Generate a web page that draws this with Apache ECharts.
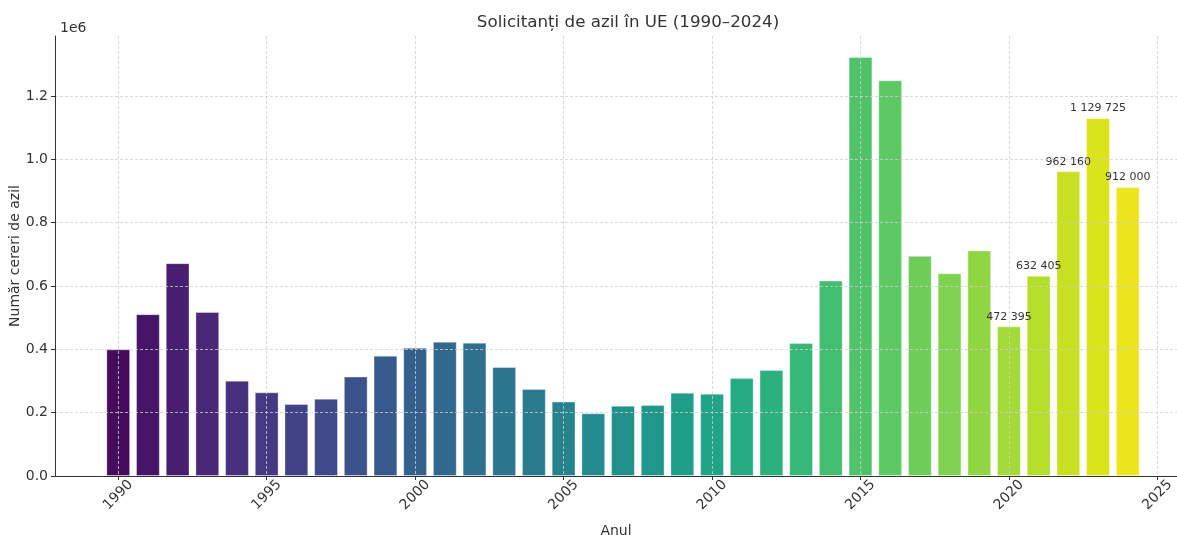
<!DOCTYPE html>
<html><head><meta charset="utf-8">
<script src="https://cdn.jsdelivr.net/npm/echarts@6/dist/echarts.min.js"></script>
<style>html,body{margin:0;padding:0;background:#fff}#c{width:1177px;height:535px}</style>
</head><body><div id="c"></div>
<script>
// ---- data ----
const years = [1990,1991,1992,1993,1994,1995,1996,1997,1998,1999,2000,2001,2002,2003,2004,2005,2006,2007,2008,2009,2010,2011,2012,2013,2014,2015,2016,2017,2018,2019,2020,2021,2022,2023,2024];
const applications = [400000,511000,672000,518000,301000,264000,227000,244000,314000,380000,405000,424000,421000,344000,275000,235000,198000,222000,224000,263000,260000,309000,335000,420000,617000,1323000,1249000,695000,640000,712000,472395,632405,962160,1129725,912000];
const labeledYears = [2020,2021,2022,2023,2024];
const titleText = 'Solicitanți de azil în UE (1990–2024)';
const xName = 'Anul';
const yName = 'Număr cereri de azil';
const yScaleText = '1e6';

// ---- viridis colour map (style) ----
const viridisStops = ['#440154','#471365','#482475','#463480','#414487','#3b528b','#355f8d','#2f6c8e','#2a788e','#25848e','#21918c','#1e9c89','#22a884','#2fb47c','#44bf70','#5ec962','#7ad151','#9bd93c','#bddf26','#dfe318','#fde725'];
function hex2rgb(h){return [parseInt(h.slice(1,3),16),parseInt(h.slice(3,5),16),parseInt(h.slice(5,7),16)];}
function viridis(t){
  const n = viridisStops.length-1; const p = t*n; const i = Math.min(Math.floor(p), n-1); const f = p-i;
  const a = hex2rgb(viridisStops[i]), b = hex2rgb(viridisStops[i+1]);
  return 'rgb('+a.map((v,k)=>Math.round(v+(b[k]-v)*f)).join(',')+')';
}
function fmtSpace(v){return String(v).replace(/\B(?=(\d{3})+(?!\d))/g,' ');}

const N = years.length;
const seriesData = years.map((y,i)=>({
  value:[y, applications[i]],
  itemStyle:{color: viridis((i+1)/(N+1))},
  label:{show: labeledYears.includes(y)}
}));

const font = 'DejaVu Sans';
const txt = '#333';
const chart = echarts.init(document.getElementById('c'), null, {renderer:'canvas'});
chart.setOption({
  animation:false,
  backgroundColor:'#fff',
  textStyle:{fontFamily:font},
  title:[
    {text:titleText, left:623, top:9, textAlign:'center', textStyle:{fontFamily:font, fontSize:16.7, fontWeight:'normal', color:txt}},
    {text:yScaleText, left:55, top:16, textStyle:{fontFamily:font, fontSize:14, fontWeight:'normal', color:txt}}
  ],
  grid:{left:55, right:0, top:36, bottom:59, containLabel:false, outerBoundsMode:'none'},
  xAxis:{
    type:'value', min:1987.87, max:2025.66, minInterval:5, maxInterval:5, z:3,
    name:xName, nameLocation:'middle', nameGap:48, nameMoveOverlap:false,
    nameTextStyle:{fontFamily:font, fontSize:14, color:txt},
    axisLine:{show:true, onZero:false, lineStyle:{color:'#333', width:1}},
    axisTick:{show:true, length:4, lineStyle:{color:'#333'}},
    axisLabel:{rotate:45, align:'center', verticalAlign:'middle', margin:19, fontFamily:font, fontSize:14, color:txt,
      showMinLabel:false, showMaxLabel:false, hideOverlap:false,
      formatter:v=>(Math.abs(v-Math.round(v/5)*5)<1e-6 ? String(Math.round(v)) : '')},
    splitLine:{show:true, showMinLine:false, showMaxLine:false, lineStyle:{color:'#cfcfcf', width:0.8, type:[3,2]}}
  },
  yAxis:{
    type:'value', min:0, max:1389000, interval:200000, z:3,
    name:yName, nameLocation:'middle', nameGap:33, nameMoveOverlap:false,
    nameTextStyle:{fontFamily:font, fontSize:14, color:txt},
    axisLine:{show:true, lineStyle:{color:'#333', width:1}},
    axisTick:{show:true, length:4, lineStyle:{color:'#333'}},
    axisLabel:{margin:7, fontFamily:font, fontSize:14, color:txt, showMaxLabel:false,
      formatter:v=>(v/1e6).toFixed(1)},
    splitLine:{show:true, showMinLine:false, showMaxLine:false, lineStyle:{color:'#cfcfcf', width:0.8, type:[3,2]}}
  },
  series:[{
    type:'bar', barWidth:23.8, z:2,
    data:seriesData,
    itemStyle:{borderColor:'rgba(255,255,255,0.35)', borderWidth:1},
    label:{position:'top', distance:4, fontFamily:font, fontSize:11, color:'#333',
      formatter:p=>fmtSpace(p.value[1])}
  }]
});
</script>
</body></html>
